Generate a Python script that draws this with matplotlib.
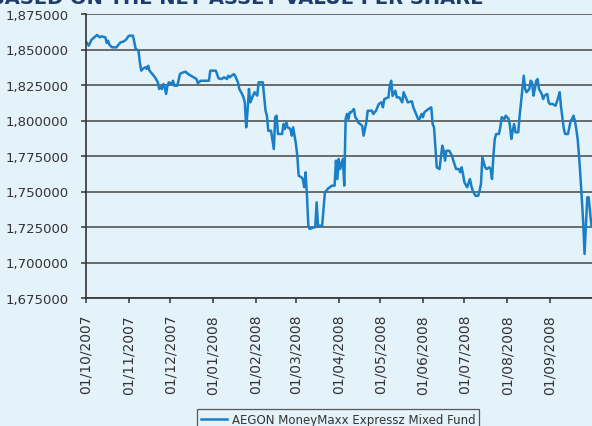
import matplotlib
matplotlib.use("Agg")
import matplotlib.pyplot as plt
import matplotlib.dates as mdates
import numpy as np
import pandas as pd
from matplotlib.ticker import FuncFormatter

TITLE = "BASED ON THE NET ASSET VALUE PER SHARE"
SERIES_LABEL = "AEGON MoneyMaxx Expressz Mixed Fund"

START = "2007-10-01"
# days after START
DAYS = [0, 2, 4, 6, 8, 10, 11, 14, 15, 16, 17, 19, 22, 23, 25, 27, 29, 31, 34, 35,
        36, 38, 39, 40, 41, 43, 44, 45, 46, 48, 50, 52, 53, 54, 55, 56, 57, 58, 59, 60,
        62, 63, 64, 66, 67, 68, 69, 72, 74, 78, 80, 81, 83, 89, 90, 94, 96, 98, 100, 102,
        103, 104, 107, 108, 110, 111, 113, 114, 115, 116, 117, 118, 119, 120, 122, 124, 125, 128, 130, 131,
        132, 134, 136, 137, 138, 139, 142, 143, 144, 145, 146, 148, 149, 150, 151, 152, 153, 154, 156, 157,
        158, 159, 160, 161, 162, 165, 166, 167, 168, 171, 172, 173, 175, 178, 180, 181, 182, 183, 184, 186,
        187, 188, 189, 190, 191, 192, 194, 195, 196, 197, 200, 201, 202, 203, 204, 207, 208, 209, 210, 212,
        214, 215, 216, 219, 220, 221, 222, 224, 225, 227, 229, 230, 232, 233, 236, 237, 238, 239, 241, 242,
        243, 244, 245, 248, 250, 251, 252, 254, 256, 258, 259, 260, 261, 263, 265, 266, 268, 270, 271, 272,
        273, 274, 276, 278, 279, 280, 282, 284, 285, 286, 287, 289, 290, 292, 293, 294, 295, 296, 297, 299,
        300, 301, 303, 304, 306, 307, 308, 309, 310, 311, 313, 314, 315, 316, 317, 318, 319, 321, 322, 323,
        324, 325, 326, 327, 328, 330, 331, 332, 334, 335, 336, 338, 340, 342, 343, 344, 346, 347, 349, 350,
        351, 352, 353, 354, 355, 356, 357, 358, 359, 360, 361, 362, 363, 364, 365, 366]

NAV = [1.8555, 1.8527, 1.8569, 1.8586, 1.8602, 1.8586, 1.8593, 1.8586, 1.8546, 1.8562,
       1.8532, 1.8515, 1.8515, 1.8527, 1.8551, 1.8555, 1.8569, 1.8597, 1.8597, 1.8551,
       1.8504, 1.8492, 1.8410, 1.8351, 1.8363, 1.8375, 1.8363, 1.8386, 1.8351, 1.8327,
       1.8304, 1.8269, 1.8222, 1.8234, 1.8222, 1.8257, 1.8234, 1.8187, 1.8245, 1.8269,
       1.8257, 1.8280, 1.8245, 1.8245, 1.8280, 1.8327, 1.8334, 1.8344, 1.8327, 1.8304,
       1.8292, 1.8262, 1.8280, 1.8280, 1.8351, 1.8351, 1.8297, 1.8292, 1.8304, 1.8292,
       1.8315, 1.8304, 1.8327, 1.8315, 1.8269, 1.8222, 1.8187, 1.8163, 1.8128, 1.7952,
       1.8069, 1.8222, 1.8128, 1.8151, 1.8199, 1.8175, 1.8269, 1.8269, 1.8069, 1.8034,
       1.7928, 1.7928, 1.7799, 1.8023, 1.8034, 1.7905, 1.7905, 1.7975, 1.7940, 1.7987,
       1.7952, 1.7940, 1.7893, 1.7952, 1.7893, 1.7834, 1.7752, 1.7611, 1.7600, 1.7588,
       1.7530, 1.7635, 1.7470, 1.7259, 1.7236, 1.7248, 1.7248, 1.7424, 1.7259, 1.7259,
       1.7377, 1.7494, 1.7518, 1.7541, 1.7541, 1.7717, 1.7588, 1.7729, 1.7658, 1.7729,
       1.7541, 1.8011, 1.8046, 1.8011, 1.8058, 1.8058, 1.8081, 1.8023, 1.8011, 1.7987,
       1.7963, 1.7893, 1.7940, 1.7987, 1.8069, 1.8069, 1.8046, 1.8058, 1.8069, 1.8116,
       1.8128, 1.8093, 1.8151, 1.8163, 1.8250, 1.8280, 1.8173, 1.8210, 1.8163, 1.8162,
       1.8128, 1.8199, 1.8151, 1.8128, 1.8135, 1.8093, 1.8069, 1.8046, 1.7999, 1.8023,
       1.8046, 1.8023, 1.8058, 1.8081, 1.8093, 1.7975, 1.7952, 1.7670, 1.7658, 1.7823,
       1.7787, 1.7717, 1.7787, 1.7787, 1.7752, 1.7717, 1.7658, 1.7658, 1.7635, 1.7670,
       1.7623, 1.7565, 1.7530, 1.7588, 1.7541, 1.7506, 1.7470, 1.7470, 1.7506, 1.7553,
       1.7741, 1.7670, 1.7658, 1.7670, 1.7658, 1.7588, 1.7752, 1.7870, 1.7905, 1.7905,
       1.7952, 1.8023, 1.8011, 1.8034, 1.8011, 1.7963, 1.7870, 1.7928, 1.7975, 1.7917,
       1.7917, 1.8034, 1.8128, 1.8222, 1.8315, 1.8222, 1.8199, 1.8222, 1.8280, 1.8269,
       1.8175, 1.8222, 1.8280, 1.8292, 1.8222, 1.8187, 1.8151, 1.8175, 1.8187, 1.8128,
       1.8116, 1.8116, 1.8104, 1.8163, 1.8199, 1.8093, 1.7940, 1.7905, 1.7905, 1.7952,
       1.7999, 1.8011, 1.8034, 1.7999, 1.7940, 1.7870, 1.7752, 1.7611, 1.7447, 1.7289,
       1.7060, 1.7259, 1.7459, 1.7459, 1.7354, 1.7259]

Y_TICKS = [1.675, 1.700, 1.725, 1.750, 1.775, 1.800, 1.825, 1.850, 1.875]
X_TICKS = ["2007-10-01", "2007-11-01", "2007-12-01", "2008-01-01", "2008-02-01",
           "2008-03-01", "2008-04-01", "2008-05-01", "2008-06-01", "2008-07-01",
           "2008-08-01", "2008-09-01"]

BG = "#E4F2F9"
LINE = "#1A7FC6"
NAVY = "#1E3C6E"
GRID = "#555555"

dates = pd.Timestamp(START) + pd.to_timedelta(DAYS, unit="D")

fig = plt.figure(figsize=(5.92, 4.27), dpi=100, facecolor=BG)
ax = fig.add_axes([86 / 592, 1 - 299 / 427, 1 - 86 / 592, (299 - 15) / 427])
ax.set_facecolor(BG)

ax.plot(dates, NAV, color=LINE, lw=1.8, label=SERIES_LABEL)

ax.set_ylim(1.675, 1.875)
ax.set_xlim(pd.Timestamp(START), pd.Timestamp(START) + pd.Timedelta(days=366.4))
ax.set_yticks(Y_TICKS)
ax.yaxis.set_major_formatter(FuncFormatter(lambda v, _: f"{v:.6f}".replace(".", ",")))
ax.set_xticks(pd.to_datetime(X_TICKS))
ax.xaxis.set_major_formatter(mdates.DateFormatter("%d/%m/%Y"))
plt.setp(ax.get_xticklabels(), rotation=90)

ax.grid(axis="y", color=GRID, lw=1.2)
ax.set_axisbelow(True)
for side in ("top", "right"):
    ax.spines[side].set_visible(False)
for side in ("left", "bottom"):
    ax.spines[side].set_color("#333333")
    ax.spines[side].set_linewidth(1.2)
ax.tick_params(axis="both", direction="out", length=3.5, width=1.1, color="#333333",
               labelsize=9.5, labelcolor="#333333")
ax.tick_params(axis="x", labelsize=10, pad=8)
ax.tick_params(axis="y", pad=9)

# only the lower edge of the heading is inside the picture
fig.text(483 / 592, 1 - 3.5 / 427, TITLE, ha="right", va="baseline",
         fontsize=14, fontweight="bold", color=NAVY)

leg = fig.legend(loc="upper center", bbox_to_anchor=(338 / 592, 1 - 404 / 427),
                 frameon=True, fancybox=False, fontsize=8.5, handlelength=2.2,
                 borderpad=0.35, handletextpad=0.4)
leg.get_frame().set_facecolor(BG)
leg.get_frame().set_edgecolor("#333333")
leg.get_frame().set_linewidth(0.9)
for t in leg.get_texts():
    t.set_color("#333333")

fig.savefig("out.png", dpi=100, facecolor=BG)
